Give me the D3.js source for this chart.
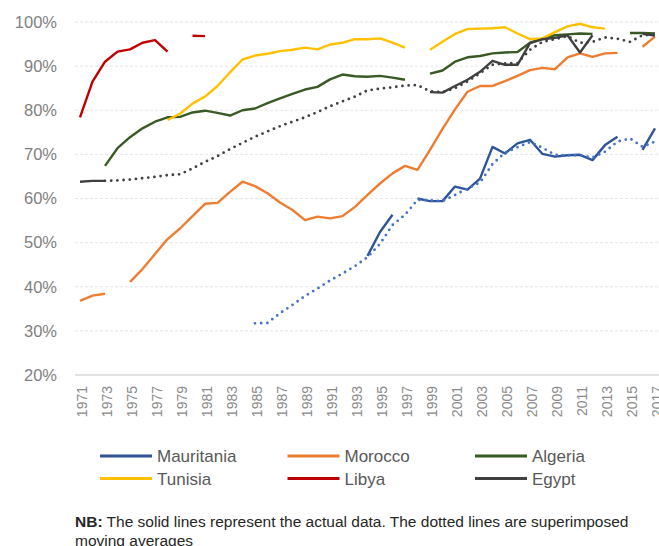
<!DOCTYPE html>
<html>
<head>
<meta charset="utf-8">
<script src="https://cdn.jsdelivr.net/npm/d3@7"></script>
<style>
  body { margin: 0; background: #fff; }
  svg { display: block; font-family: "Liberation Sans", Arial, sans-serif; }
</style>
</head>
<body>
<div id="chart"></div>
<script>
// years on the category axis
var years = d3.range(1971, 2018);
var yTicks = [20, 30, 40, 50, 60, 70, 80, 90, 100];

// values in %, null = no data (gap in line)
var mauritania = [null, null, null, null, null, null, null, null, null, null,
  null, null, null, null, null, null, null, null, null, null,
  null, null, null, 47.0, 52.4, 56.3, null, 60.0, 59.4, 59.4,
  62.7, 62.0, 64.5, 71.7, 70.2, 72.5, 73.3, 70.1, 69.5, 69.8,
  69.9, 68.7, 72.1, 74.0, null, 71.0, 75.9];
var morocco = [36.8, 38.0, 38.4, null, 41.1, 44.0, 47.4, 50.8, 53.2, 56.0,
  58.8, 59.0, 61.5, 63.8, 62.8, 61.2, 59.1, 57.4, 55.1, 55.9,
  55.5, 56.0, 58.1, 60.8, 63.4, 65.7, 67.4, 66.5, 71.0, 75.8,
  80.2, 84.2, 85.5, 85.5, 86.6, 87.8, 89.1, 89.6, 89.3, 92.0,
  92.9, 92.1, 92.9, 93.0, null, 94.4, 96.7];
var algeria = [null, null, 67.4, 71.4, 73.9, 75.9, 77.4, 78.4, 78.5, 79.5,
  79.9, 79.4, 78.8, 80.0, 80.4, 81.6, 82.7, 83.7, 84.7, 85.3,
  87.0, 88.1, 87.7, 87.6, 87.8, 87.4, 86.9, null, 88.3, 89.0,
  91.0, 92.0, 92.3, 92.9, 93.1, 93.2, 95.3, 96.2, 97.0, 97.2,
  97.4, 97.3, null, null, 97.5, 97.5, 97.4];
var tunisia = [null, null, null, null, null, null, null, 77.8, 79.2, 81.5,
  83.1, 85.5, 88.6, 91.5, 92.4, 92.8, 93.4, 93.7, 94.2, 93.8,
  94.9, 95.3, 96.1, 96.1, 96.3, 95.3, 94.2, null, 93.7, 95.5,
  97.3, 98.4, 98.5, 98.6, 98.8, 97.4, 96.1, 96.3, 97.7, 99.0,
  99.6, 98.8, 98.5, null, null, null, null];
var libya = [78.4, 86.5, 91.0, 93.3, 93.8, 95.3, 95.9, 93.3, null, 96.9,
  96.8, null, null, null, null, null, null, null, null, null,
  null, null, null, null, null, null, null, null, null, null,
  null, null, null, null, null, null, null, null, null, null,
  null, null, null, null, null, null, null];
var egypt = [63.8, 64.0, 64.0, null, null, null, null, null, null, null,
  null, null, null, null, null, null, null, null, null, null,
  null, null, null, null, null, null, null, null, 84.1, 84.0,
  85.5, 86.9, 88.7, 91.2, 90.3, 90.3, 95.2, 96.1, 96.4, 97.0,
  93.1, 97.0, null, null, null, 97.3, 96.9];

// moving averages (dotted)
var mauritaniaAvg = [null, null, null, null, null, null, null, null, null, null,
  null, null, null, null, 31.7, 31.8, 34.0, 35.9, 37.9, 39.6,
  41.4, 43.0, 44.7, 46.7, 49.7, 54.0, 56.3, 59.7, 59.6, 59.4,
  60.8, 62.3, 63.6, 67.8, 70.4, 71.6, 72.8, 71.5, 69.9, 69.8,
  69.8, 69.3, 70.6, 72.9, 73.6, 71.7, 72.9];
var egyptAvg = [null, null, 64.0, 64.1, 64.3, 64.6, 64.9, 65.3, 65.5, 66.8,
  68.3, 69.6, 71.2, 72.6, 74.0, 75.2, 76.4, 77.4, 78.4, 79.6,
  80.9, 82.0, 83.1, 84.5, 84.9, 85.2, 85.6, 85.7, 84.3, 84.1,
  85.0, 86.5, 88.4, 90.3, 90.6, 90.7, 93.7, 95.5, 96.1, 96.8,
  95.3, 95.5, 96.5, 96.2, 95.5, 97.0, 97.1];

var countries = ["Mauritania", "Morocco", "Algeria", "Tunisia", "Libya", "Egypt"];
var colors = ["#2f5597", "#ed7d31", "#3a5a25", "#ffc000", "#c00000", "#404040"];
var seriesValues = [mauritania, morocco, algeria, tunisia, libya, egypt];

var width = 659, height = 546;

var svg = d3.select("#chart").append("svg")
    .attr("width", width)
    .attr("height", height);

var x = d3.scalePoint()
    .domain(years)
    .range([80, 655]);

var y = d3.scaleLinear()
    .domain([20, 100])
    .range([375, 22]);

// gridlines
svg.append("g")
    .selectAll("line")
    .data(yTicks.filter(d => d > 20))
    .enter()
    .append("line")
    .attr("x1", 75)
    .attr("x2", width)
    .attr("y1", d => y(d))
    .attr("y2", d => y(d))
    .attr("stroke", "#e6e6e6")
    .attr("stroke-width", 1)
    .attr("stroke-dasharray", "3,2");

// base line at 20%
svg.append("line")
    .attr("x1", 75)
    .attr("x2", width)
    .attr("y1", y(20))
    .attr("y2", y(20))
    .attr("stroke", "#d9d9d9")
    .attr("stroke-width", 1.5);

// y axis
var yAxis = svg.append("g")
    .attr("transform", "translate(57,0)")
    .call(d3.axisLeft(y).tickValues(yTicks).tickFormat(d => d + "%").tickSize(0).tickPadding(0));
yAxis.select(".domain").remove();
yAxis.selectAll("text")
    .attr("fill", "#7f7f7f")
    .style("font-size", "16.5px")
    .style("font-family", "Liberation Sans, Arial, sans-serif");

// x axis labels, every 2nd year, rotated
svg.append("g")
    .selectAll("text")
    .data(years.filter(d => (d - 1971) % 2 === 0))
    .enter()
    .append("text")
    .attr("transform", d => "translate(" + (x(d) + 6.5) + ",386) rotate(-90)")
    .attr("text-anchor", "end")
    .attr("fill", "#8a8a8a")
    .style("font-size", "14px")
    .text(d => d);

var line = d3.line()
    .defined(d => d[1] !== null)
    .x(d => x(d[0]))
    .y(d => y(d[1]));

// solid lines
seriesValues.forEach(function(vals, i) {
    svg.append("path")
        .datum(years.map((yr, j) => [yr, vals[j]]))
        .attr("fill", "none")
        .attr("stroke", colors[i])
        .attr("stroke-width", 2.4)
        .attr("stroke-linejoin", "round")
        .attr("d", line);
});

// dotted moving averages
[[mauritaniaAvg, "#4472c4"], [egyptAvg, "#404040"]].forEach(function(s) {
    svg.append("path")
        .datum(years.map((yr, j) => [yr, s[0][j]]))
        .attr("fill", "none")
        .attr("stroke", s[1])
        .attr("stroke-width", 2.8)
        .attr("stroke-linecap", "round")
        .attr("stroke-dasharray", "0,6.2")
        .attr("d", line);
});

// legend
var legend = svg.append("g")
    .selectAll("g")
    .data(countries)
    .enter()
    .append("g")
    .attr("transform", (d, i) => "translate(" + (100 + (i % 3) * 187.5) + "," + (456 + Math.floor(i / 3) * 22.5) + ")");

legend.append("line")
    .attr("x1", 0)
    .attr("x2", 52)
    .attr("stroke", (d, i) => colors[i])
    .attr("stroke-width", 3);

legend.append("text")
    .attr("x", 57)
    .attr("y", 6)
    .attr("fill", "#595959")
    .style("font-size", "17px")
    .text(d => d);

// note under the chart
var note = svg.append("text")
    .attr("x", 75)
    .attr("y", 526.5)
    .attr("fill", "#262626")
    .style("font-size", "15.5px");
note.append("tspan").attr("font-weight", "bold").text("NB:");
note.append("tspan").text(" The solid lines represent the actual data. The dotted lines are superimposed");
svg.append("text")
    .attr("x", 75)
    .attr("y", 545.5)
    .attr("fill", "#262626")
    .style("font-size", "15.5px")
    .text("moving averages");
</script>
</body>
</html>
